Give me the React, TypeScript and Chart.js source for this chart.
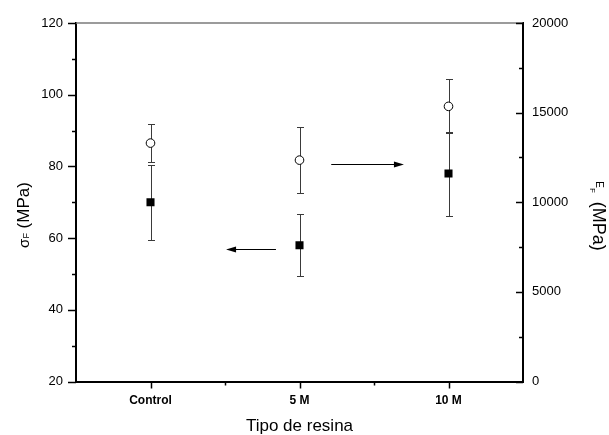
import React, { useEffect, useRef } from 'react';
import { Chart, registerables } from 'chart.js';

Chart.register(...registerables);

const categories = ['Control', '5 M', '10 M'];
const sigmaValues = [70, 58, 78];
const sigmaErrors = [10.5, 8.7, 11.7];
const modulusValues = [13300, 12350, 15350];
const modulusErrors = [1050, 1850, 1500];
const leftTickStep = 20;
const rightTickStep = 5000;
// arrows, in data coordinates (x = category index, y = left-axis value)
const arrowFromX = [0.842, 1.213];
const arrowToX = [0.507, 1.701];
const arrowYValue = [57, 80.6];

const FONT = '"Liberation Sans", Arial, sans-serif';

type Seg = [string, number, number, number];

const decorPlugin = {
  id: 'decor',
  beforeDatasetsDraw(chart: any) {
    const ctx = chart.ctx;
    const x = chart.scales.x;
    const y = chart.scales.y;
    const y1 = chart.scales.y1;
    ctx.save();
    ctx.strokeStyle = '#3a3a3a';
    ctx.lineWidth = 1;
    const cap = 3.5;
    const bar = (px: number, top: number, bot: number) => {
      ctx.beginPath();
      ctx.moveTo(px, top);
      ctx.lineTo(px, bot);
      ctx.moveTo(px - cap, top);
      ctx.lineTo(px + cap, top);
      ctx.moveTo(px - cap, bot);
      ctx.lineTo(px + cap, bot);
      ctx.stroke();
    };
    categories.forEach((_, i) => {
      const px = Math.round(x.getPixelForValue(i)) + 0.5;
      bar(px, Math.round(y.getPixelForValue(sigmaValues[i] + sigmaErrors[i])) + 0.5,
        Math.round(y.getPixelForValue(sigmaValues[i] - sigmaErrors[i])) + 0.5);
      bar(px, Math.round(y1.getPixelForValue(modulusValues[i] + modulusErrors[i])) + 0.5,
        Math.round(y1.getPixelForValue(modulusValues[i] - modulusErrors[i])) + 0.5);
    });
    ctx.restore();
  },
  afterDraw(chart: any) {
    const ctx = chart.ctx;
    const area = chart.chartArea;
    const x = chart.scales.x;
    const y = chart.scales.y;
    const y1 = chart.scales.y1;
    ctx.save();
    // top frame line
    ctx.strokeStyle = '#7a7a7a';
    ctx.lineWidth = 1.5;
    ctx.beginPath();
    ctx.moveTo(area.left, area.top);
    ctx.lineTo(area.right, area.top);
    ctx.stroke();

    ctx.strokeStyle = '#000';
    ctx.lineWidth = 1.5;
    // left ticks (outward)
    for (let v = y.min; v <= y.max + 1e-9; v += leftTickStep / 2) {
      const major = Math.abs((v - y.min) % leftTickStep) < 1e-6;
      const py = Math.round(y.getPixelForValue(v)) + 0.5;
      const len = major ? 8 : 4;
      ctx.beginPath();
      ctx.moveTo(area.left - len, py);
      ctx.lineTo(area.left, py);
      ctx.stroke();
    }
    // right ticks (inward)
    for (let v = y1.min; v <= y1.max + 1e-9; v += rightTickStep / 2) {
      const major = Math.abs((v - y1.min) % rightTickStep) < 1e-6;
      const py = Math.round(y1.getPixelForValue(v)) + 0.5;
      const len = major ? 7 : 4;
      ctx.beginPath();
      ctx.moveTo(area.right - len, py);
      ctx.lineTo(area.right, py);
      ctx.stroke();
    }
    // x ticks (outward)
    for (let k = 0; k <= (categories.length - 1) * 2; k++) {
      const v = k / 2;
      const major = k % 2 === 0;
      const px = Math.round(x.getPixelForValue(v)) + 0.5;
      const len = major ? 7 : 4;
      ctx.beginPath();
      ctx.moveTo(px, area.bottom);
      ctx.lineTo(px, area.bottom + len);
      ctx.stroke();
    }

    // arrows
    ctx.lineWidth = 1;
    ctx.fillStyle = '#000';
    arrowFromX.forEach((fx, i) => {
      const x0 = x.getPixelForValue(fx);
      const x1 = x.getPixelForValue(arrowToX[i]);
      const py = Math.round(y.getPixelForValue(arrowYValue[i])) + 0.5;
      const dir = x1 > x0 ? 1 : -1;
      ctx.beginPath();
      ctx.moveTo(x0, py);
      ctx.lineTo(x1 - dir * 8, py);
      ctx.stroke();
      ctx.beginPath();
      ctx.moveTo(x1, py);
      ctx.lineTo(x1 - dir * 10, py - 3);
      ctx.lineTo(x1 - dir * 10, py + 3);
      ctx.closePath();
      ctx.fill();
    });

    // titles
    ctx.fillStyle = '#000';
    ctx.textAlign = 'left';
    ctx.textBaseline = 'middle';
    const drawSegs = (segs: Seg[]) => {
      let total = 0;
      const widths = segs.map(([t, s, , gap]) => {
        ctx.font = `${s}px ${FONT}`;
        const w = ctx.measureText(t).width + gap;
        total += w;
        return w;
      });
      let cx = -total / 2;
      segs.forEach(([t, s, off], i) => {
        ctx.font = `${s}px ${FONT}`;
        ctx.fillText(t, cx, off);
        cx += widths[i];
      });
    };
    // x title
    ctx.save();
    ctx.translate((area.left + area.right) / 2, 426);
    drawSegs([['Tipo de resina', 17, 0, 0]]);
    ctx.restore();
    // left title
    ctx.save();
    ctx.translate(24, 215);
    ctx.rotate(-Math.PI / 2);
    drawSegs([['σ', 15, 1, 0], ['F', 9, 3, 0], [' (MPa)', 17, 0, 0]]);
    ctx.restore();
    // right title
    ctx.save();
    ctx.translate(597.5, 216);
    ctx.rotate(Math.PI / 2);
    drawSegs([['E', 10, -1, 0], ['F', 8, 5, 9], ['(MPa)', 18, 0, 0]]);
    ctx.restore();

    ctx.restore();
  },
};

export default function App() {
  const ref = useRef<HTMLCanvasElement | null>(null);
  useEffect(() => {
    document.body.style.margin = '0';
    const canvas = ref.current;
    if (!canvas) return;
    const chart = new Chart(canvas, {
      type: 'line',
      data: {
        labels: categories,
        datasets: [
          {
            label: 'σF',
            data: sigmaValues,
            yAxisID: 'y',
            showLine: false,
            pointStyle: 'rect',
            pointRadius: 5.7,
            pointHoverRadius: 5.7,
            backgroundColor: '#000',
            borderColor: '#000',
            pointBorderWidth: 0,
          },
          {
            label: 'EF',
            data: modulusValues,
            yAxisID: 'y1',
            showLine: false,
            pointStyle: 'circle',
            pointRadius: 4.3,
            pointHoverRadius: 4.3,
            backgroundColor: '#fff',
            borderColor: '#000',
            pointBorderWidth: 1,
          },
        ],
      },
      options: {
        responsive: false,
        animation: false,
        devicePixelRatio: 1,
        layout: { padding: { top: 23, left: 0, right: 0, bottom: 0 } },
        plugins: { legend: { display: false }, tooltip: { enabled: false } },
        events: [],
        scales: {
          x: {
            type: 'category',
            offset: true,
            grid: { display: false, drawTicks: false },
            border: { display: true, color: '#000', width: 2 },
            ticks: {
              color: '#000',
              padding: 12,
              font: { family: FONT, size: 12, weight: 'bold' },
            },
            afterFit: (s: any) => { s.height = 53.5; },
          },
          y: {
            position: 'left',
            min: 20,
            max: 120,
            grid: { display: false, drawTicks: false },
            border: { display: true, color: '#000', width: 2 },
            ticks: {
              stepSize: leftTickStep,
              color: '#000',
              padding: 13,
              font: { family: FONT, size: 13 },
              callback: (v: any) => String(v),
            },
            afterFit: (s: any) => { s.width = 76; },
          },
          y1: {
            position: 'right',
            min: 0,
            max: 20000,
            grid: { display: false, drawTicks: false },
            border: { display: true, color: '#000', width: 2 },
            ticks: {
              stepSize: rightTickStep,
              color: '#000',
              padding: 9,
              font: { family: FONT, size: 13 },
              callback: (v: any) => String(v),
            },
            afterFit: (s: any) => { s.width = 86; },
          },
        },
      },
      plugins: [decorPlugin],
    } as any);
    return () => chart.destroy();
  }, []);
  return <canvas ref={ref} width={609} height={435} style={{ display: 'block' }} />;
}
